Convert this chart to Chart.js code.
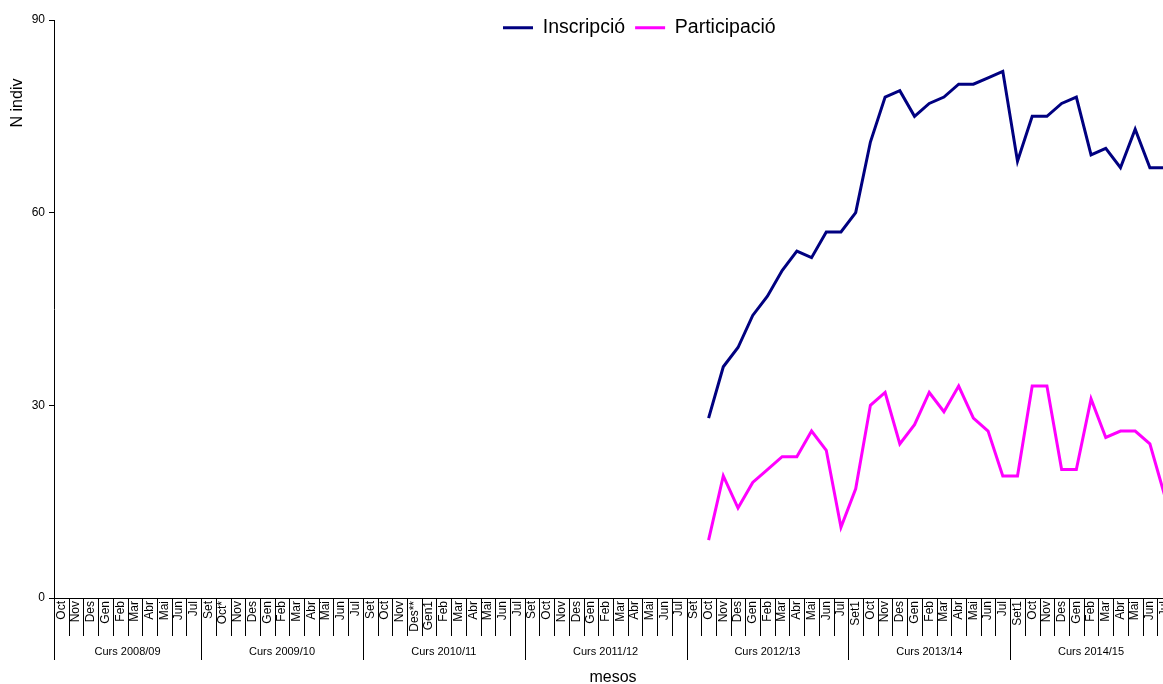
<!DOCTYPE html>
<html>
<head>
<meta charset="utf-8">
<script src="https://cdn.jsdelivr.net/npm/chart.js@4.4.1/dist/chart.umd.min.js"></script>
<style>
  html, body { margin: 0; padding: 0; background: #fff; overflow: hidden; }
  #wrap { width: 1182px; height: 684px; }
</style>
</head>
<body>
<div id="wrap"><canvas id="grafic"></canvas></div>
<script>
const cursos = ['Curs 2008/09', 'Curs 2009/10', 'Curs 2010/11', 'Curs 2011/12', 'Curs 2012/13', 'Curs 2013/14', 'Curs 2014/15'];
const mesos0809 = ['Oct', 'Nov', 'Des', 'Gen', 'Feb', 'Mar', 'Abr', 'Mai', 'Jun', 'Jul'];
const mesos0910 = ['Set', 'Oct*', 'Nov', 'Des', 'Gen', 'Feb', 'Mar', 'Abr', 'Mai', 'Jun', 'Jul'];
const mesos1011 = ['Set', 'Oct', 'Nov', 'Des**', 'Gen1', 'Feb', 'Mar', 'Abr', 'Mai', 'Jun', 'Jul'];
const mesos1112 = ['Set', 'Oct', 'Nov', 'Des', 'Gen', 'Feb', 'Mar', 'Abr', 'Mai', 'Jun', 'Jul'];
const mesos1213 = ['Set', 'Oct', 'Nov', 'Des', 'Gen', 'Feb', 'Mar', 'Abr', 'Mai', 'Jun', 'Jul'];
const mesos1314 = ['Set1', 'Oct', 'Nov', 'Des', 'Gen', 'Feb', 'Mar', 'Abr', 'Mai', 'Jun', 'Jul'];
const mesos1415 = ['Set1', 'Oct', 'Nov', 'Des', 'Gen', 'Feb', 'Mar', 'Abr', 'Mai', 'Jun', 'Jul'];
const mesosPerCurs = [mesos0809, mesos0910, mesos1011, mesos1112, mesos1213, mesos1314, mesos1415];

// dades des d'Oct del Curs 2012/13
const inscripcio = [28, 36, 39, 44, 47, 51, 54, 53, 57, 57,
                    60, 71, 78, 79, 75, 77, 78, 80, 80, 81, 82,
                    68, 75, 75, 77, 78, 69, 70, 67, 73, 67, 67];
const participacio = [9, 19, 14, 18, 20, 22, 22, 26, 23, 11,
                      17, 30, 32, 24, 27, 32, 29, 33, 28, 26, 19,
                      19, 33, 33, 20, 20, 31, 25, 26, 26, 24, 16];
const yTicks = [0, 30, 60, 90];

const etiquetes = [];
const iniciCurs = [];
mesosPerCurs.forEach(m => { iniciCurs.push(etiquetes.length); etiquetes.push(...m); });
iniciCurs.push(etiquetes.length);
const primer = iniciCurs[4] + mesos1213.indexOf('Oct');
const buits = new Array(primer).fill(null);

const font = "'Liberation Sans', Arial, sans-serif";
Chart.defaults.font.family = font;
Chart.defaults.color = '#000';

const separadors = {
  id: 'separadors',
  beforeLayout(chart) {
    const lg = chart.legend;
    if (lg && !lg._fixat) {
      const fit = lg.fit;
      lg.fit = function () { fit.call(this); this.height = 20; };
      lg._fixat = true;
    }
  },
  afterLayout(chart) {
    const lg = chart.legend;
    const pad = lg.options.labels.padding;
    const inici = (lg.left + pad + lg.right - lg.lineWidths[0]) / 2;
    const dx = 503 - inici;
    lg.left += dx; lg.right += dx;
    lg.top = 8; lg.bottom = 60;
  },
  afterDraw(chart) {
    const ctx = chart.ctx;
    const x = chart.scales.x;
    const area = chart.chartArea;
    const amp = x.getPixelForValue(1) - x.getPixelForValue(0);
    ctx.save();
    ctx.strokeStyle = '#000';
    ctx.lineWidth = 1;
    for (let i = 0; i <= etiquetes.length; i++) {
      const px = Math.round(x.getPixelForValue(i) - amp / 2) + 0.5;
      const llarg = iniciCurs.includes(i) ? 62 : 38;
      ctx.beginPath();
      ctx.moveTo(px, area.bottom);
      ctx.lineTo(px, area.bottom + llarg);
      ctx.stroke();
    }
    ctx.fillStyle = '#000';
    ctx.font = '11px ' + font;
    ctx.textAlign = 'center';
    ctx.textBaseline = 'middle';
    cursos.forEach((c, k) => {
      const a = x.getPixelForValue(iniciCurs[k]);
      const b = x.getPixelForValue(iniciCurs[k + 1] - 1);
      ctx.fillText(c, (a + b) / 2, 652);
    });
    ctx.font = '16px ' + font;
    ctx.translate(18, 103);
    ctx.rotate(-Math.PI / 2);
    ctx.fillText('N indiv', 0, 0);
    ctx.restore();
  }
};

new Chart(document.getElementById('grafic'), {
  type: 'line',
  data: {
    labels: etiquetes,
    datasets: [
      {
        label: 'Inscripció',
        data: buits.concat(inscripcio),
        borderColor: '#000080',
        backgroundColor: '#000080',
        borderWidth: 3,
        pointRadius: 0,
        tension: 0
      },
      {
        label: 'Participació',
        data: buits.concat(participacio),
        borderColor: '#ff00ff',
        backgroundColor: '#ff00ff',
        borderWidth: 3,
        pointRadius: 0,
        tension: 0
      }
    ]
  },
  options: {
    responsive: true,
    maintainAspectRatio: false,
    animation: false,
    layout: { padding: { top: 0, left: 0, right: 0, bottom: 0 } },
    plugins: {
      tooltip: { enabled: false },
      legend: {
        position: 'top',
        align: 'center',
        labels: {
          usePointStyle: true,
          pointStyle: 'line',
          pointStyleWidth: 30,
          color: '#000',
          padding: 10,
          font: { size: 19.5 }
        }
      }
    },
    scales: {
      x: {
        type: 'category',
        offset: true,
        grid: { display: true, drawOnChartArea: false, drawTicks: false },
        border: { display: true, color: '#000', width: 1 },
        ticks: {
          autoSkip: false,
          minRotation: 90,
          maxRotation: 90,
          padding: 3,
          color: '#000',
          font: { size: 12 }
        },
        title: {
          display: true,
          text: 'mesos',
          color: '#000',
          font: { size: 16 },
          padding: { top: 0, bottom: -3 }
        },
        afterFit(s) { s.height = 86; }
      },
      y: {
        min: 0,
        max: 90,
        afterBuildTicks(s) { s.ticks = yTicks.map(v => ({ value: v })); },
        grid: { drawOnChartArea: false, drawTicks: true, tickLength: 5, color: '#000' },
        border: { display: true, color: '#000', width: 1 },
        ticks: { padding: 4, color: '#000', font: { size: 12 } },
        afterFit(s) { s.width = 54; }
      }
    }
  },
  plugins: [separadors]
});
</script>
</body>
</html>
